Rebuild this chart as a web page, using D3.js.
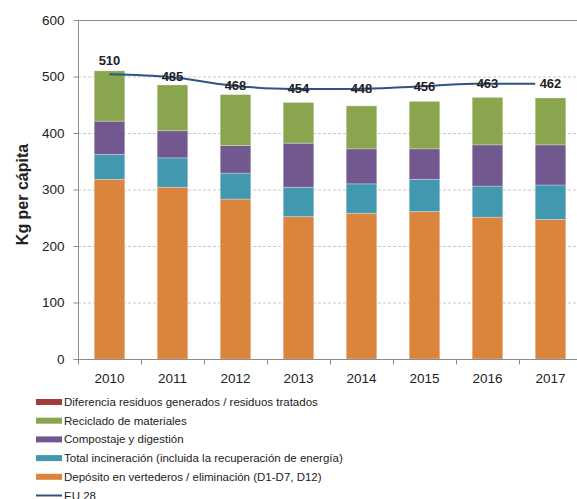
<!DOCTYPE html>
<html lang="es">
	<head>
		<meta charset="utf-8">
		<title>Residuos municipales per cápita</title>
		<script src="https://d3js.org/d3.v7.min.js"></script>
		<style type="text/css">
			body { margin: 0; background: #fff; }
			text { font-family: "Liberation Sans", Arial, sans-serif; fill: #222; }
			.grid line { stroke: #c8c8c8; stroke-dasharray: 3,2; }
			.axis path, .axis line { stroke: #8c8c8c; }
		</style>
	</head>
	<body>
		<script type="text/javascript">
			//Data
			var years = ["2010", "2011", "2012", "2013", "2014", "2015", "2016", "2017"];
			var deposito = [318, 304, 283, 252, 258, 261, 251, 247];
			var incineracion = [44, 52, 46, 52, 52, 57, 55, 61];
			var compostaje = [59, 48, 49, 78, 62, 54, 73, 71];
			var reciclado = [89, 81, 90, 72, 76, 84, 84, 83];
			var diferencia = [0, 0, 0, 0, 0, 0, 0, 0];
			var totals = [510, 485, 468, 454, 448, 456, 463, 462];
			var eu28 = [504, 499, 484, 478, 478, 482, 487, 487];
			var yTicks = [0, 100, 200, 300, 400, 500, 600];

			var seriesNames = [
				"Depósito en vertederos / eliminación (D1-D7, D12)",
				"Total incineración (incluida la recuperación de energía)",
				"Compostaje y digestión",
				"Reciclado de materiales",
				"Diferencia residuos generados / residuos tratados"
			];
			var seriesColors = ["#db843d", "#4198af", "#71588f", "#89a54e", "#a33b3b"];
			var seriesValues = [deposito, incineracion, compostaje, reciclado, diferencia];

			//Size
			var width = 577, height = 499;
			var plotLeft = 78, plotRight = 582, plotTop = 20, plotBottom = 359;

			var svg = d3.select("body").append("svg")
				.attr("width", width)
				.attr("height", height);

			//Scales
			var xScale = d3.scaleBand()
				.domain(years)
				.range([plotLeft, plotRight])
				.paddingInner(0.515)
				.paddingOuter(0.2575);
			var yScale = d3.scaleLinear()
				.domain([0, 600])
				.range([plotBottom, plotTop]);

			//Grid
			svg.append("g")
				.attr("class", "grid")
				.selectAll("line")
				.data(yTicks.slice(1, -1))
				.enter()
				.append("line")
				.attr("x1", plotLeft)
				.attr("x2", plotRight)
				.attr("y1", function(d) { return yScale(d) + 0.5; })
				.attr("y2", function(d) { return yScale(d) + 0.5; });

			svg.append("line")
				.attr("x1", plotLeft)
				.attr("x2", plotRight)
				.attr("y1", yScale(600) + 0.5)
				.attr("y2", yScale(600) + 0.5)
				.attr("stroke", "#8c8c8c");

			//Stacked bars
			var table = years.map(function(y, i) {
				var row = { year: y };
				seriesNames.forEach(function(n, k) { row[n] = seriesValues[k][i]; });
				return row;
			});
			var stack = d3.stack().keys(seriesNames)(table);

			svg.selectAll("g.layer")
				.data(stack)
				.enter()
				.append("g")
				.attr("class", "layer")
				.attr("fill", function(d, i) { return seriesColors[i]; })
				.selectAll("rect")
				.data(function(d) { return d; })
				.enter()
				.append("rect")
				.attr("x", function(d) { return xScale(d.data.year); })
				.attr("y", function(d) { return yScale(d[1]); })
				.attr("width", xScale.bandwidth())
				.attr("height", function(d) { return yScale(d[0]) - yScale(d[1]); })
				.attr("stroke", "#fff")
				.attr("stroke-opacity", 0.35)
				.attr("stroke-width", 0.8);

			//Axes
			var yAxis = d3.axisLeft(yScale)
				.tickValues(yTicks)
				.tickSize(5)
				.tickPadding(9);
			svg.append("g")
				.attr("class", "axis")
				.attr("transform", "translate(" + (plotLeft + 0.5) + ",0)")
				.call(yAxis)
				.call(function(g) {
					g.select(".domain").attr("d", "M0," + plotBottom + "V" + plotTop);
					g.selectAll("text").style("font-size", "13.5px").attr("fill", "#222");
				});

			var xAxis = d3.axisBottom(xScale).tickSize(0).tickPadding(14);
			var gx = svg.append("g")
				.attr("class", "axis")
				.attr("transform", "translate(0," + (plotBottom + 0.5) + ")")
				.call(xAxis);
			gx.select(".domain").attr("d", "M" + plotLeft + ",0H" + plotRight);
			gx.selectAll("text").style("font-size", "13.5px").attr("fill", "#222");
			gx.selectAll("line.sep")
				.data(years)
				.enter()
				.append("line")
				.attr("class", "sep")
				.attr("x1", function(d) { return Math.round(xScale(d) - xScale.step() * xScale.paddingInner() / 2) + 0.5; })
				.attr("x2", function(d) { return Math.round(xScale(d) - xScale.step() * xScale.paddingInner() / 2) + 0.5; })
				.attr("y1", 0)
				.attr("y2", 5);

			//Y title
			svg.append("text")
				.attr("transform", "translate(28," + ((plotTop + plotBottom) / 2 + 5) + ") rotate(-90)")
				.attr("text-anchor", "middle")
				.style("font-size", "16px")
				.style("font-weight", "bold")
				.attr("fill", "#111")
				.text("Kg per cápita");

			//EU 28 line
			var lineX = d3.scalePoint()
				.domain(years)
				.range([xScale(years[0]) + xScale.bandwidth() / 2, xScale(years[years.length - 1])]);
			var line = d3.line()
				.x(function(d, i) { return lineX(years[i]); })
				.y(function(d) { return yScale(d); })
				.curve(d3.curveMonotoneX);
			svg.append("path")
				.datum(eu28)
				.attr("d", line)
				.attr("fill", "none")
				.attr("stroke", "#2e5388")
				.attr("stroke-width", 2);

			//Total labels
			svg.selectAll("text.total")
				.data(totals)
				.enter()
				.append("text")
				.attr("class", "total")
				.attr("x", function(d, i) { return xScale(years[i]) + xScale.bandwidth() / 2; })
				.attr("y", function(d, i) {
					if (d > eu28[i]) return yScale(d) - 6;
					return yScale(eu28[i]) + 4;
				})
				.attr("text-anchor", "middle")
				.style("font-size", "13px")
				.style("font-weight", "bold")
				.attr("fill", "#000")
				.text(function(d) { return d; });

			//Legend
			var legendItems = seriesNames.slice().reverse().concat(["EU 28"]);
			var legendColors = seriesColors.slice().reverse().concat(["#2e5388"]);
			var legend = svg.selectAll("g.legend")
				.data(legendItems)
				.enter()
				.append("g")
				.attr("class", "legend")
				.attr("transform", function(d, i) { return "translate(36," + (402 + i * 18.7) + ")"; });
			legend.append("rect")
				.attr("x", 0)
				.attr("y", function(d, i) { return i < 5 ? -3 : -1; })
				.attr("width", 26)
				.attr("height", function(d, i) { return i < 5 ? 6 : 2; })
				.attr("fill", function(d, i) { return legendColors[i]; });
			legend.append("text")
				.attr("x", 28)
				.attr("y", 4)
				.style("font-size", "11.5px")
				.attr("fill", "#222")
				.text(function(d) { return d; });
		</script>
	</body>
</html>
